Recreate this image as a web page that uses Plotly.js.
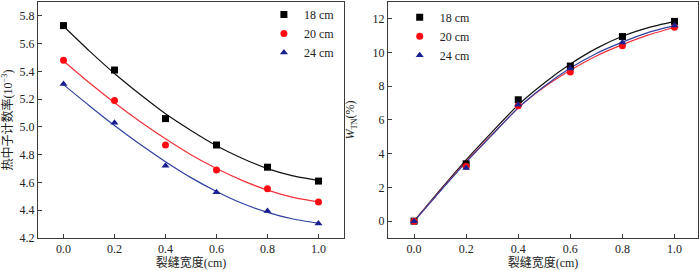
<!DOCTYPE html>
<html>
<head>
<meta charset="utf-8">
<script src="https://cdn.plot.ly/plotly-3.0.1.min.js"></script>
<style>
html,body{margin:0;padding:0;background:#fff;}
#chart{width:700px;height:270px;}
</style>
</head>
<body>
<div id="chart"></div>
<script>
// ---- data ----
var widths = [0.0, 0.2, 0.4, 0.6, 0.8, 1.0];
var seriesNames = ['18 cm', '20 cm', '24 cm'];

// left panel: thermal neutron count rate (10^-3)
var rate18 = [5.73, 5.41, 5.06, 4.87, 4.71, 4.61];
var rate20 = [5.48, 5.19, 4.87, 4.69, 4.555, 4.46];
var rate24 = [5.31, 5.03, 4.72, 4.53, 4.395, 4.305];

// fitted curves
var fitX = [0.0, 0.1, 0.2, 0.3, 0.4, 0.5, 0.6, 0.7, 0.8, 0.9, 1.0];
var rateFit18 = [5.725, 5.55, 5.385, 5.235, 5.095, 4.975, 4.865, 4.775, 4.70, 4.648, 4.615];
var rateFit20 = [5.475, 5.32, 5.175, 5.04, 4.915, 4.80, 4.70, 4.615, 4.545, 4.493, 4.46];
var rateFit24 = [5.305, 5.155, 5.01, 4.875, 4.75, 4.635, 4.535, 4.45, 4.385, 4.337, 4.307];

// right panel: W_TN (%)
var wtn18 = [0.0, 3.4, 7.2, 9.2, 10.95, 11.85];
var wtn20 = [0.0, 3.25, 6.85, 8.85, 10.4, 11.5];
var wtn24 = [0.0, 3.15, 6.9, 9.05, 10.6, 11.6];

var wtnFit18 = [0.0, 1.85, 3.64, 5.3, 6.9, 8.2, 9.32, 10.25, 10.97, 11.48, 11.85];
var wtnFit20 = [0.0, 1.8, 3.55, 5.15, 6.72, 7.95, 8.95, 9.8, 10.47, 11.05, 11.49];
var wtnFit24 = [0.0, 1.77, 3.5, 5.12, 6.72, 8.0, 9.08, 9.95, 10.62, 11.2, 11.6];

var xTickVals = [0.0, 0.2, 0.4, 0.6, 0.8, 1.0];
var xTickText = ['0.0', '0.2', '0.4', '0.6', '0.8', '1.0'];
var yLeftTicks = [4.2, 4.4, 4.6, 4.8, 5.0, 5.2, 5.4, 5.6, 5.8];
var yLeftText = ['4.2', '4.4', '4.6', '4.8', '5.0', '5.2', '5.4', '5.6', '5.8'];
var yRightTicks = [0, 2, 4, 6, 8, 10, 12];

// ---- styles ----
var colors = ['#000000', '#ff0a12', '#1a1f8f'];
var lineColors = ['#111111', '#f0303a', '#3040a0'];
var symbols = ['square', 'circle', 'triangle-up'];
var FONT = 'Liberation Serif, Times New Roman, Noto Sans CJK SC, serif';

var traces = [];
var leftPts = [rate18, rate20, rate24];
var leftFits = [rateFit18, rateFit20, rateFit24];
var rightPts = [wtn18, wtn20, wtn24];
var rightFits = [wtnFit18, wtnFit20, wtnFit24];

for (var i = 0; i < 3; i++) {
  traces.push({x: fitX, y: leftFits[i], xaxis: 'x', yaxis: 'y', mode: 'lines',
    line: {color: lineColors[i], width: 1.2, shape: 'spline', smoothing: 0.6}, showlegend: false, hoverinfo: 'skip'});
}
for (var i = 0; i < 3; i++) {
  traces.push({x: widths, y: leftPts[i], xaxis: 'x', yaxis: 'y', mode: 'markers', name: seriesNames[i],
    legend: 'legend', marker: {symbol: symbols[i], size: 7, color: colors[i]}});
}
for (var i = 0; i < 3; i++) {
  traces.push({x: fitX, y: rightFits[i], xaxis: 'x2', yaxis: 'y2', mode: 'lines',
    line: {color: lineColors[i], width: 1.2, shape: 'spline', smoothing: 0.6}, showlegend: false, hoverinfo: 'skip'});
}
for (var i = 0; i < 3; i++) {
  traces.push({x: widths, y: rightPts[i], xaxis: 'x2', yaxis: 'y2', mode: 'markers', name: seriesNames[i],
    legend: 'legend2', marker: {symbol: symbols[i], size: 7, color: colors[i]}});
}

var axisCommon = {
  showline: true, linecolor: '#3a3a3a', linewidth: 1, mirror: true,
  ticks: 'inside', ticklen: 4, tickcolor: '#3a3a3a', tickwidth: 1,
  showgrid: false, zeroline: false,
  tickfont: {family: FONT, size: 12, color: '#222'}
};
function ax(extra) { var o = {}; for (var k in axisCommon) o[k] = axisCommon[k]; for (var k in extra) o[k] = extra[k]; return o; }

var titleFont = {family: FONT, size: 12, color: '#222'};

var layout = {
  width: 700, height: 270,
  margin: {l: 0, r: 0, t: 0, b: 0},
  paper_bgcolor: '#fff', plot_bgcolor: '#fff',
  font: {family: FONT, size: 12, color: '#222'},
  xaxis: ax({domain: [0.0543, 0.4914], range: [-0.1, 1.1], tickvals: xTickVals, ticktext: xTickText,
    anchor: 'y', title: {text: '裂缝宽度(cm)', font: titleFont, standoff: 4}}),
  yaxis: ax({domain: [0.1185, 0.9926], range: [4.2, 5.9], tickvals: yLeftTicks, ticktext: yLeftText,
    anchor: 'x', title: {text: '热中子计数率(10<sup>−3</sup>)', font: titleFont}}),
  xaxis2: ax({domain: [0.5543, 0.9971], range: [-0.1, 1.09], tickvals: xTickVals, ticktext: xTickText,
    anchor: 'y2', title: {text: '裂缝宽度(cm)', font: titleFont, standoff: 4}}),
  yaxis2: ax({domain: [0.1185, 0.9926], range: [-1, 13], tickvals: yRightTicks,
    anchor: 'x2', title: {text: '<i>W</i><sub>TN</sub>(%)', font: titleFont}}),
  legend: {x: 0.377, y: 1.0, xanchor: 'left', yanchor: 'top', bgcolor: 'rgba(0,0,0,0)',
    font: {family: FONT, size: 12, color: '#222'}, itemwidth: 30, tracegroupgap: 0},
  legend2: {x: 0.571, y: 0.99, xanchor: 'left', yanchor: 'top', bgcolor: 'rgba(0,0,0,0)',
    font: {family: FONT, size: 12, color: '#222'}, itemwidth: 30, tracegroupgap: 0},
  showlegend: true
};

Plotly.newPlot('chart', traces, layout, {displayModeBar: false, staticPlot: true});
</script>
</body>
</html>
